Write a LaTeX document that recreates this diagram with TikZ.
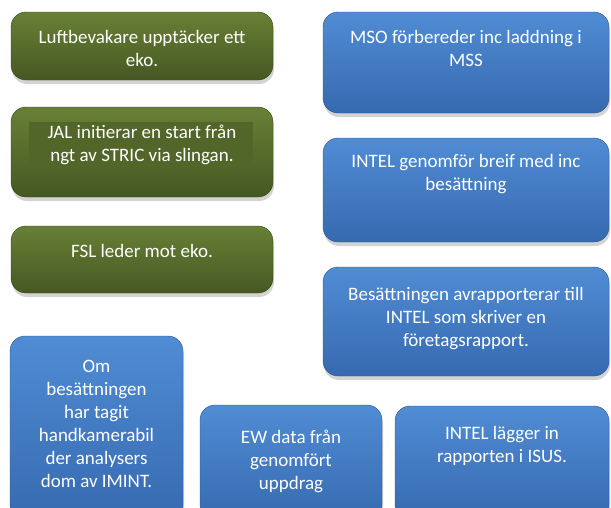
\documentclass[tikz,border=0pt]{standalone}
\usepackage{fontspec}
\setmainfont{Carlito}
\usetikzlibrary{shadows}
\definecolor{olivetop}{RGB}{104,128,54}
\definecolor{olivebot}{RGB}{70,88,34}
\definecolor{olivein}{RGB}{82,102,42}
\definecolor{bluetop}{RGB}{80,140,212}
\definecolor{bluebot}{RGB}{54,106,176}
\tikzset{
  card/.style={rectangle, rounded corners=15pt, inner sep=0pt,
    drop shadow={shadow xshift=1pt, shadow yshift=-4pt, opacity=0.35}},
  gbox/.style={card, top color=olivetop, bottom color=olivebot, draw=olivebot!80!black, line width=0.4pt},
  bbox/.style={card, top color=bluetop, bottom color=bluebot, draw=bluebot!80!black, line width=0.4pt},
  txt/.style={anchor=north, inner sep=0pt, align=center, text=white,
    font=\fontsize{19}{23}\selectfont},
}
\begin{document}
\begin{tikzpicture}[x=1pt, y=-1pt]
  %%%%% START %%%%%
  \useasboundingbox (0,0) rectangle (611,507);
  \clip (0,0) rectangle (611,507);

  % green column
  \node[gbox, minimum width=262pt, minimum height=68pt] (luft) at (142,46) {};
  \node[gbox, minimum width=262pt, minimum height=90pt] (jal) at (142,152) {};
  \node[fill=olivein, minimum width=224pt, minimum height=45pt, inner sep=0pt] (jalin) at (141,144.5) {};
  \node[gbox, minimum width=262pt, minimum height=67pt] (fsl) at (142,259.5) {};

  \node[txt] (luftt) at ([yshift=-18pt]luft.north) {Luftbevakare upptäcker ett\\eko.};
  \node[txt] (jalt) at ([yshift=-18pt]jal.north) {JAL initierar en start från\\ngt av STRIC via slingan.};
  \node[txt] (fslt) at ([yshift=-18pt]fsl.north) {FSL leder mot eko.};

  % blue column
  \node[bbox, minimum width=286pt, minimum height=101pt] (mso) at (466,62.5) {};
  \node[bbox, minimum width=286pt, minimum height=104pt] (brief) at (466,190) {};
  \node[bbox, minimum width=286pt, minimum height=109pt] (avrap) at (466,321.5) {};

  \node[txt] (msot) at ([yshift=-18pt]mso.north) {MSO förbereder inc laddning i\\MSS};
  \node[txt] (brieft) at ([yshift=-16pt]brief.north) {INTEL genomför breif med inc\\besättning};
  \node[txt] (avrapt) at ([yshift=-20pt]avrap.north) {Besättningen avrapporterar till\\INTEL som skriver en\\företagsrapport.};

  % bottom row
  \node[bbox, minimum width=173pt, minimum height=184pt] (om) at (96.5,428) {};
  \node[bbox, minimum width=182pt, minimum height=115pt] (ew) at (291,462.5) {};
  \node[bbox, minimum width=214pt, minimum height=114pt] (isus) at (502,463) {};

  \node[txt] (omt) at ([yshift=-24pt]om.north) {Om\\besättningen\\har tagit\\handkamerabil\\der analysers\\dom av IMINT.};
  \node[txt] (ewt) at ([yshift=-25pt]ew.north) {EW data från\\genomfört\\uppdrag};
  \node[txt] (isust) at ([yshift=-20pt]isus.north) {INTEL lägger in\\rapporten i ISUS.};
  %%%%% END %%%%%
\end{tikzpicture}
\end{document}
